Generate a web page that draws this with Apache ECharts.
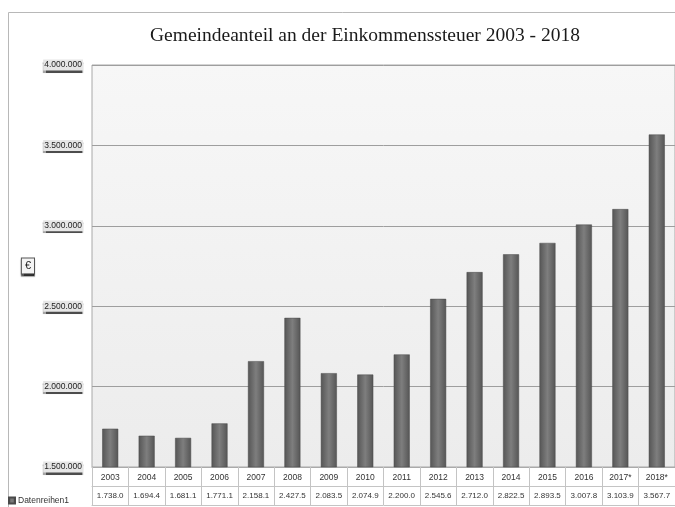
<!DOCTYPE html>
<html><head><meta charset="utf-8">
<script src="https://cdn.jsdelivr.net/npm/echarts@6/dist/echarts.min.js"></script>
<style>html,body{margin:0;padding:0;background:#fff}#c{width:675px;height:507px}</style>
</head><body><div id="c"></div>
<script>
const years = ['2003','2004','2005','2006','2007','2008','2009','2010','2011','2012','2013','2014','2015','2016','2017*','2018*'];
const valuesThousand = [1738.0,1694.4,1681.1,1771.1,2158.1,2427.5,2083.5,2074.9,2200.0,2545.6,2712.0,2822.5,2893.5,3007.8,3103.9,3567.7];
const seriesName = 'Datenreihen1';
const titleText = 'Gemeindeanteil an der Einkommenssteuer 2003 - 2018';
const yName = '€';

const fmtTable = v => { const s = v.toFixed(1); const [i,d] = s.split('.'); return i.replace(/\B(?=(\d{3})+(?!\d))/g,'.') + '.' + d; };
const fmtAxis = v => String(Math.round(v*1000)).replace(/\B(?=(\d{3})+(?!\d))/g,'.');

const chart = echarts.init(document.getElementById('c'));
const narrow = "'Liberation Sans Narrow','Liberation Sans',Arial,sans-serif";
chart.setOption({
  animation:false,
  backgroundColor:'#fff',
  title:{text:titleText,left:360,top:21,textAlign:'center',
    textStyle:{fontFamily:"'Liberation Serif','Times New Roman',serif",fontSize:19.5,fontWeight:'normal',color:'#1a1a1a'}},
  legend:{data:[seriesName],left:3,top:491,itemWidth:6,itemHeight:6,itemGap:3,icon:'rect',
    textStyle:{fontFamily:narrow,fontSize:8.5,color:'#333',padding:[0,0,0,-2]}},
  graphic:[
    {type:'rect',shape:{x:8.5,y:12.5,width:700,height:520},style:{fill:'none',stroke:'#b8b8b8',lineWidth:1},z:-1}
  ],
  grid:{left:92,right:-1,top:65,bottom:40,show:true,borderColor:'#a8a8a8',borderWidth:1,
    backgroundColor:{type:'linear',x:0,y:0,x2:0,y2:1,colorStops:[{offset:0,color:'#f7f7f7'},{offset:1,color:'#ececec'}]}},
  xAxis:[
    {type:'category',data:years,position:'bottom',
      axisLine:{show:true,lineStyle:{color:'#aaa'}},
      axisTick:{show:true,length:38,lineStyle:{color:'#c4c4c4'}},
      axisLabel:{interval:0,fontFamily:narrow,fontSize:8.5,color:'#333',margin:6}},
    {type:'category',data:valuesThousand.map(fmtTable),position:'bottom',offset:19,
      axisLine:{show:true,lineStyle:{color:'#c4c4c4'}},axisTick:{show:false},
      axisLabel:{interval:0,fontFamily:narrow,fontSize:8,color:'#333',margin:6}},
    {type:'category',data:years,position:'bottom',offset:38,
      axisLine:{show:true,lineStyle:{color:'#c4c4c4'}},axisTick:{show:false},axisLabel:{show:false}}
  ],
  yAxis:{type:'value',min:1500,max:4000,interval:500,
    name:yName,nameLocation:'middle',nameGap:58,nameRotate:0,
    nameTextStyle:{fontSize:11,color:'#222',borderColor:'#555',borderWidth:1,padding:[2,3,2,3],backgroundColor:'#f4f4f4',
      shadowColor:'rgba(0,0,0,0.6)',shadowOffsetY:2,shadowBlur:1},
    axisLine:{show:false},axisTick:{show:false},
    splitLine:{lineStyle:{color:'#9e9e9e',width:1}},
    axisLabel:{formatter:fmtAxis,fontFamily:narrow,fontSize:8.5,color:'#222',margin:9,
      backgroundColor:'#e6e6e6',padding:[1,1,1,1],shadowColor:'rgba(0,0,0,0.7)',shadowOffsetY:2,shadowBlur:1}},
  series:[{name:seriesName,type:'bar',data:valuesThousand,barWidth:16,xAxisIndex:0,
    itemStyle:{color:{type:'linear',x:0,y:0,x2:1,y2:0,colorStops:[{offset:0,color:'#555'},{offset:0.5,color:'#7e7e7e'},{offset:1,color:'#555'}]},
      borderColor:'#4a4a4a',borderWidth:0.5}}],
  color:['#666']
});
</script></body></html>
